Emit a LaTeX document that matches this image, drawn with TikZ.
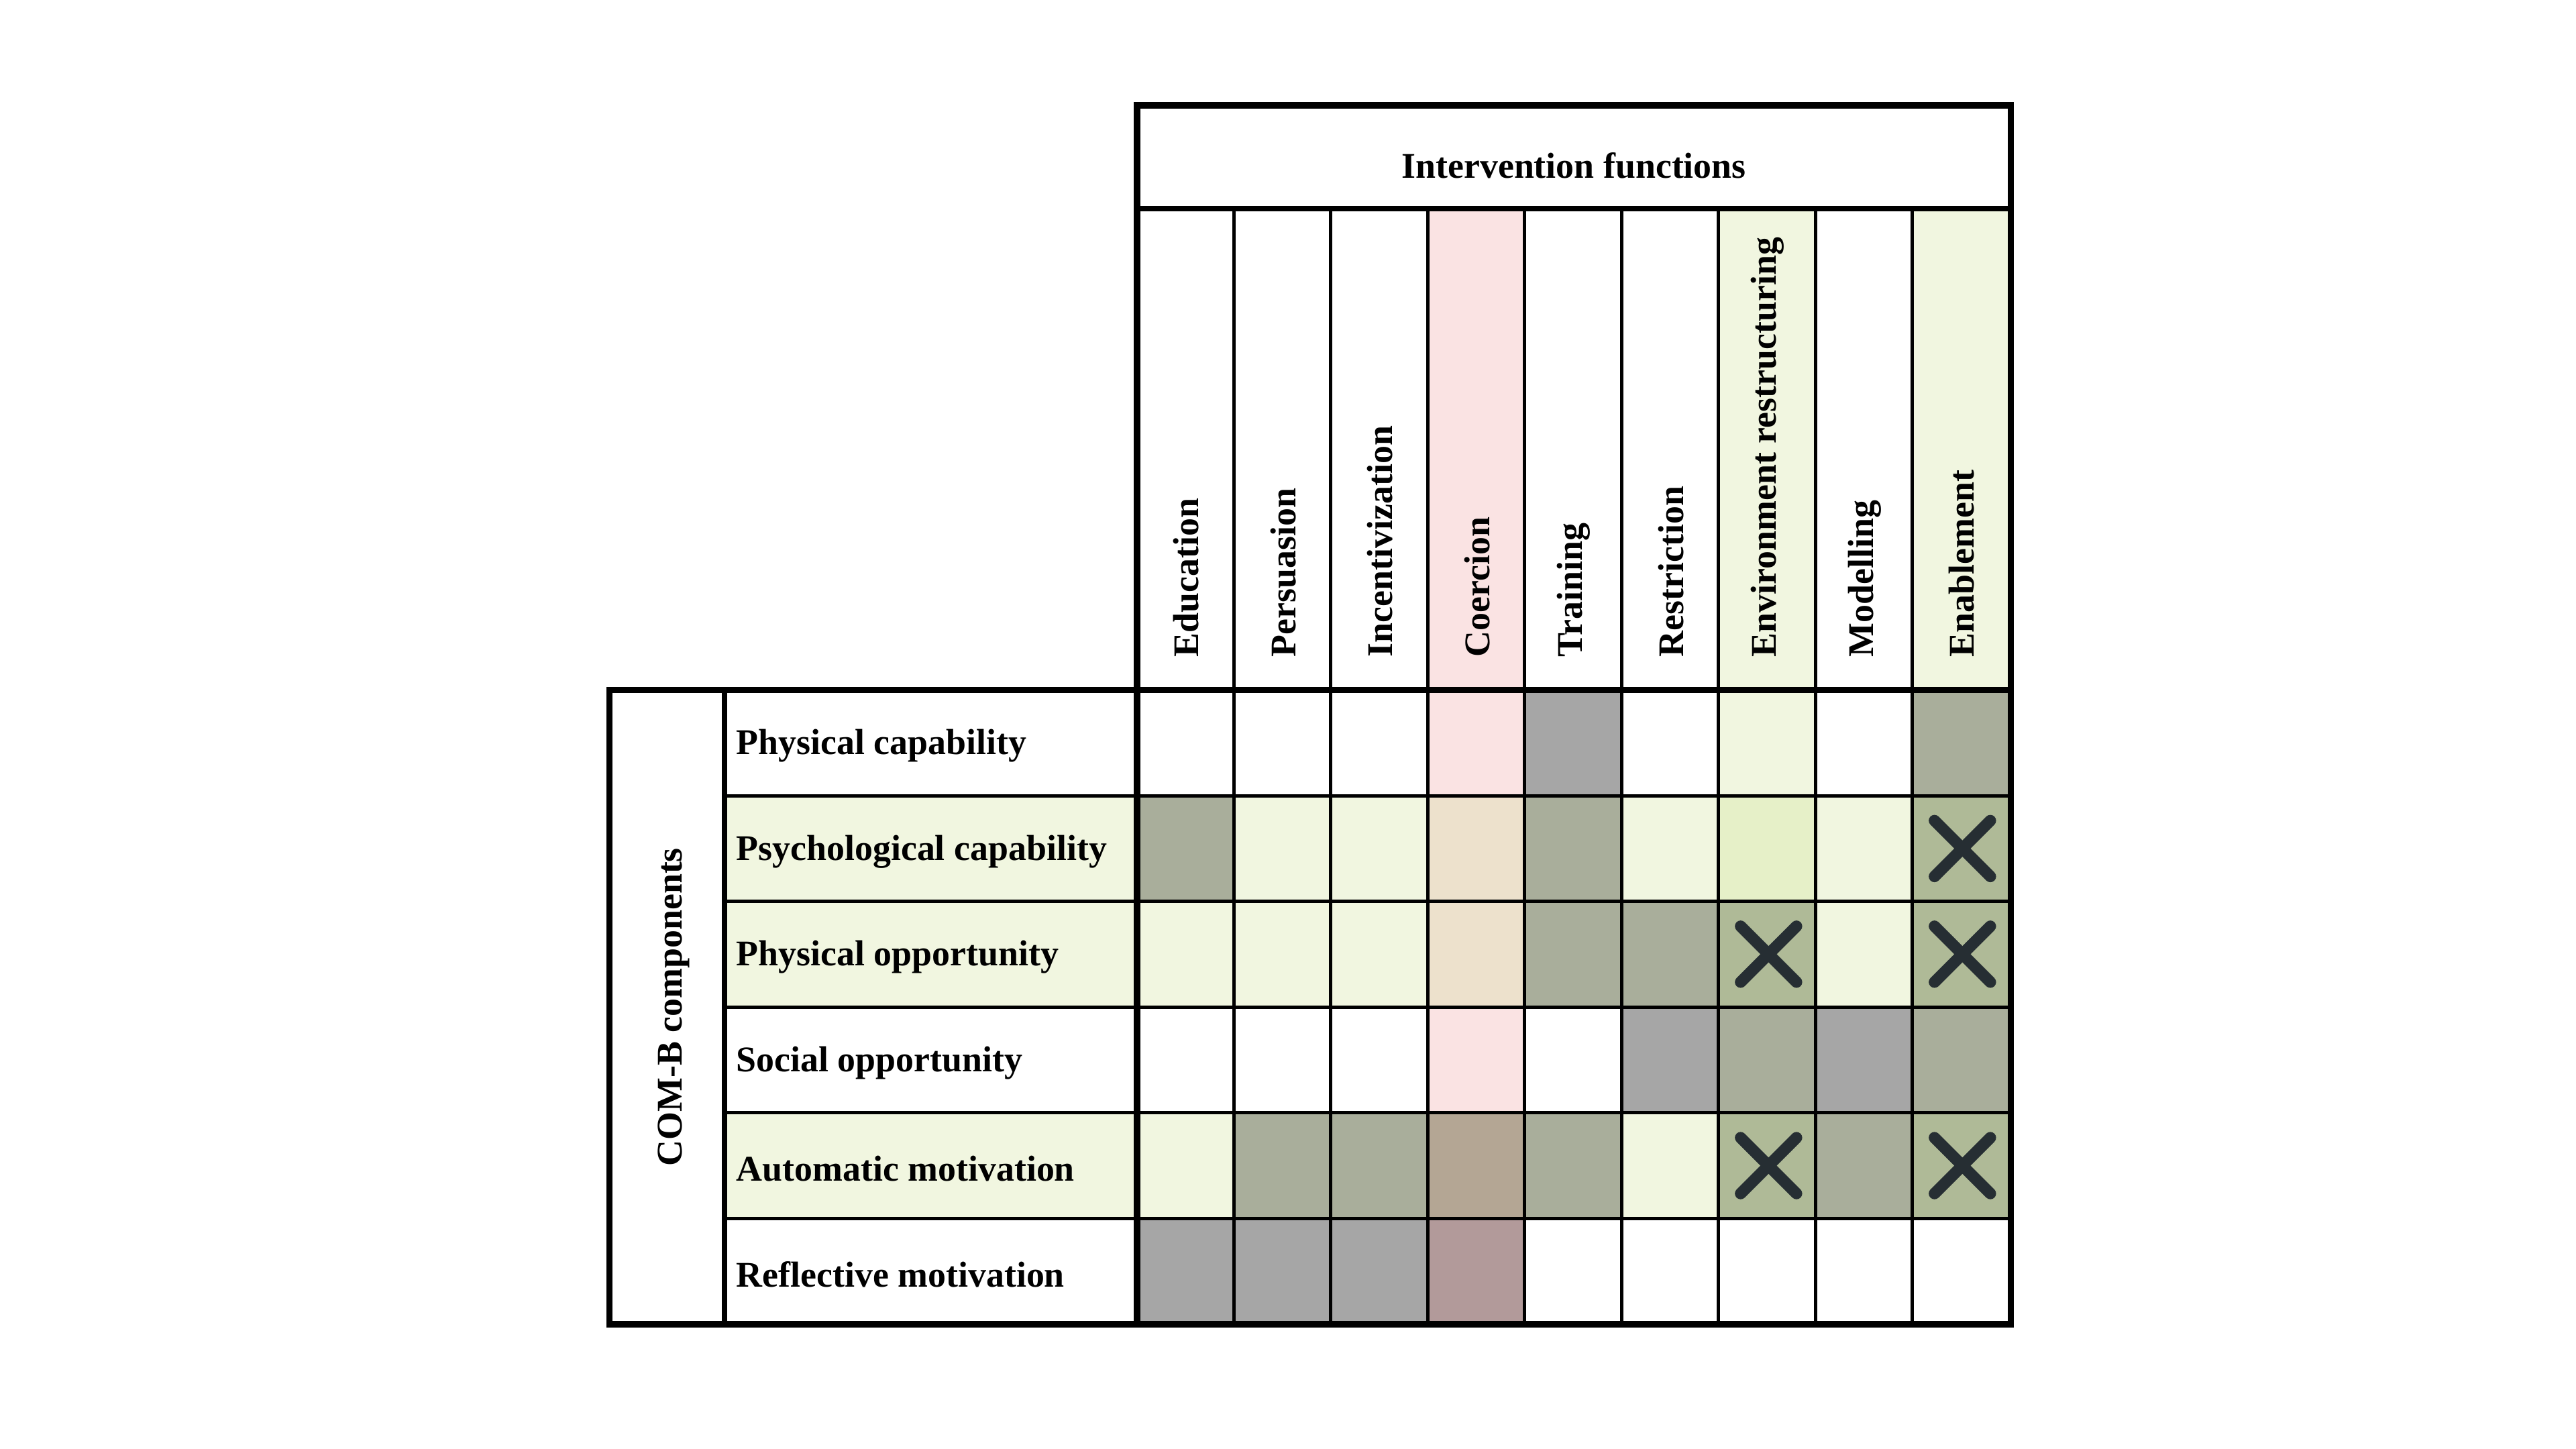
\documentclass[tikz,border=0pt]{standalone}
\usepackage{fontspec}
\setmainfont{Liberation Serif}
\begin{document}
\begin{tikzpicture}[x=1pt,y=-1pt,
  lbl/.style={font=\fontsize{22}{25}\selectfont\bfseries,inner sep=0pt},
  xmark/.style={draw=xc,line width=7pt,line cap=round}]
\definecolor{W}{HTML}{FFFFFF}
\definecolor{L}{HTML}{F1F6E0}
\definecolor{G}{HTML}{A6A6A6}
\definecolor{Q}{HTML}{A9AE9B}
\definecolor{X}{HTML}{AFBA97}
\definecolor{E}{HTML}{E6F0C8}
\definecolor{P}{HTML}{FAE3E3}
\definecolor{B}{HTML}{EDE1CC}
\definecolor{C}{HTML}{B4A694}
\definecolor{D}{HTML}{B29A9A}
\definecolor{xc}{HTML}{262E33}
\useasboundingbox (0,0) rectangle (1568,882);
\fill[white] (0,0) rectangle (1568,882);
% header colours
\fill[P] (870,127) rectangle (929,420);
\fill[L] (1047,127) rectangle (1106,420);
\fill[L] (1165,127) rectangle (1224,420);
% row label backgrounds
\foreach \r/\c in {0/W,1/L,2/L,3/W,4/L,5/W}
  \fill[\c] (441,420+64.33*\r) rectangle (692,420+64.33*\r+64.33);
% cells
\def\rowfill#1#2{\foreach \c [count=\i from 0] in {#2}{
  \fill[\c] (692+59*\i,420+64.33*#1) rectangle (751+59*\i,484.33+64.33*#1);}}
\rowfill{0}{W,W,W,P,G,W,L,W,Q}
\rowfill{1}{Q,L,L,B,Q,L,E,L,X}
\rowfill{2}{L,L,L,B,Q,Q,X,L,X}
\rowfill{3}{W,W,W,P,W,G,Q,G,Q}
\rowfill{4}{L,Q,Q,C,Q,L,X,Q,X}
\rowfill{5}{G,G,G,D,W,W,W,W,W}
% grid lines
\foreach \i in {1,...,8} \draw[line width=2pt] (692+59*\i,127) -- (692+59*\i,806);
\foreach \r in {1,...,5} \draw[line width=2pt] (441,420+64.33*\r) -- (1224,420+64.33*\r);
\draw[line width=3pt] (692,127) -- (1224,127);
\draw[line width=3pt] (371,420) -- (1224,420);
\draw[line width=3pt] (441,420) -- (441,806);
\draw[line width=3pt] (692,64) -- (692,806);
\draw[line width=4pt] (692,64) rectangle (1224,806);
\draw[line width=4pt] (371,420) rectangle (1224,806);
% X marks
\foreach \cx/\cy in {1194.5/516.5, 1076.5/580.8, 1194.5/580.8, 1076.5/709.5, 1194.5/709.5}{
  \draw[xmark] (\cx-17,\cy-17) -- (\cx+17,\cy+17);
  \draw[xmark] (\cx-17,\cy+17) -- (\cx+17,\cy-17);}
% texts
\node[lbl] (title) at (958,101) {Intervention functions};
\node[lbl,rotate=90] (comb) at (410,613) {COM-B components};
\foreach \t [count=\i from 0] in {Education,Persuasion,Incentivization,Coercion,Training,Restriction,Environment restructuring,Modelling,Enablement}
  \node[lbl,rotate=90,anchor=west] (col\i) at (722+59*\i,400) {\t};
\foreach \t [count=\r from 0] in {Physical capability,Psychological capability,Physical opportunity,Social opportunity,Automatic motivation,Reflective motivation}
  \node[lbl,anchor=west] (row\r) at (448,454+64.33*\r) {\t};
\end{tikzpicture}
\end{document}
